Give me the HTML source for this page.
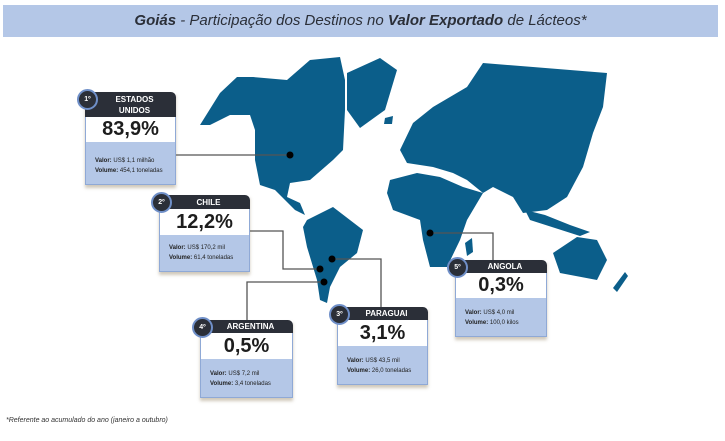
<!DOCTYPE html><html><head><meta charset="utf-8"><style>
body{margin:0;width:725px;height:441px;background:#fff;position:relative;overflow:hidden;font-family:"Liberation Sans",sans-serif}
.t{position:absolute;left:3px;top:5px;width:715px;height:32px;background:#b4c7e7;text-align:center;line-height:32px;font-size:15px;color:#2b2f38;font-style:italic}
.b{position:absolute;box-shadow:0 3px 3px rgba(120,100,60,.35)}
.h{background:#2b2f38;color:#fff;font-weight:bold;font-size:8px;text-align:center;border-radius:5px 5px 0 0;display:flex;align-items:center;justify-content:center;line-height:11px;padding-left:8px}
.w{background:#fff;border:1.5px solid #8fa9d6;border-top:none;border-bottom:none;text-align:center;font-weight:bold;font-size:20px;color:#1d1d1d}
.l{background:#b4c7e7;border:1.5px solid #8fa9d6;border-top:none;font-size:6px;color:#222;padding:0 0 8px 9px;box-sizing:border-box;display:flex;flex-direction:column;justify-content:flex-end;line-height:10px;white-space:nowrap}
.n{position:absolute;left:-8px;top:-3px;width:17px;height:17px;border-radius:50%;background:#2b2f38;border:2px solid #6f8fc8;color:#fff;font-size:7px;font-weight:bold;text-align:center;line-height:17px}
.f{position:absolute;left:6px;top:417px;font-size:7px;font-style:italic;color:#333}
</style></head><body>
<div class="t"><b>Goiás</b> - Participação dos Destinos no <b>Valor Exportado</b> de Lácteos*</div>
<svg width="725" height="441" style="position:absolute;left:0;top:0">
<g fill="#0b5e8a">
<polygon points="200,125 220,93 237,77 253,77 287,80 310,60 340,57 345,80 345,110 343,150 333,160 310,180 290,183 287,197 300,203 305,215 295,210 275,190 260,185 255,160 255,145 255,130 250,115 230,115 210,125"/>
<polygon points="347,73 380,58 397,70 385,110 360,128 347,110"/>
<polygon points="307,220 333,207 363,230 357,253 340,267 330,287 327,303 320,300 317,280 307,247 303,227"/>
<polygon points="390,180 417,173 440,177 463,187 483,193 467,220 460,240 447,267 430,267 423,240 420,220 393,210 387,193"/>
<polygon points="400,150 413,123 433,107 467,87 483,63 533,67 607,73 603,107 593,133 583,167 567,197 547,210 523,213 513,197 493,187 483,193 467,180 453,173 433,167 407,163"/>
<polygon points="553,253 577,237 597,240 607,260 597,280 560,273"/>
<polygon points="525,210 545,215 570,225 590,232 580,236 555,228 530,220"/>
<polygon points="465,243 472,238 473,252 467,256"/>
<polygon points="613,288 625,272 628,276 617,292"/>
<polygon points="385,118 393,116 392,124 384,124"/>
</g>
<g stroke="#555" stroke-width="1.3" fill="none">
<polyline points="176,155 290,155"/><polyline points="250,231 283,231 283,269 320,269"/>
<polyline points="247,320 247,282 324,282"/><polyline points="332,259 381,259 381,307"/>
<polyline points="430,233 493,233 493,260"/></g>
<g fill="#000"><circle cx="290" cy="155" r="3.5"/><circle cx="320" cy="269" r="3.5"/><circle cx="324" cy="282" r="3.5"/><circle cx="332" cy="259" r="3.5"/><circle cx="430" cy="233" r="3.5"/></g>
</svg>
<div class="b" style="left:85px;top:92px;width:91px"><div class="n">1º</div><div class="h" style="height:25px">ESTADOS<br>UNIDOS</div><div class="w" style="height:25px;line-height:25px">83,9%</div><div class="l" style="height:43px"><span><b>Valor:</b> US$ 1,1 milhão</span><span><b>Volume:</b> 454,1 toneladas</span></div></div>
<div class="b" style="left:159px;top:195px;width:91px"><div class="n">2º</div><div class="h" style="height:14px">CHILE</div><div class="w" style="height:26px;line-height:26px">12,2%</div><div class="l" style="height:37px"><span><b>Valor:</b> US$ 170,2 mil</span><span><b>Volume:</b> 61,4 toneladas</span></div></div>
<div class="b" style="left:337px;top:307px;width:91px"><div class="n">3º</div><div class="h" style="height:13px">PARAGUAI</div><div class="w" style="height:26px;line-height:26px">3,1%</div><div class="l" style="height:39px"><span><b>Valor:</b> US$ 43,5 mil</span><span><b>Volume:</b> 26,0 toneladas</span></div></div>
<div class="b" style="left:200px;top:320px;width:93px"><div class="n">4º</div><div class="h" style="height:13px">ARGENTINA</div><div class="w" style="height:26px;line-height:26px">0,5%</div><div class="l" style="height:39px"><span><b>Valor:</b> US$ 7,2 mil</span><span><b>Volume:</b> 3,4 toneladas</span></div></div>
<div class="b" style="left:455px;top:260px;width:92px"><div class="n">5º</div><div class="h" style="height:13px">ANGOLA</div><div class="w" style="height:25px;line-height:25px">0,3%</div><div class="l" style="height:39px"><span><b>Valor:</b> US$ 4,0 mil</span><span><b>Volume:</b> 100,0 kilos</span></div></div>
<div class="f">*Referente ao acumulado do ano (janeiro a outubro)</div>
</body></html>
